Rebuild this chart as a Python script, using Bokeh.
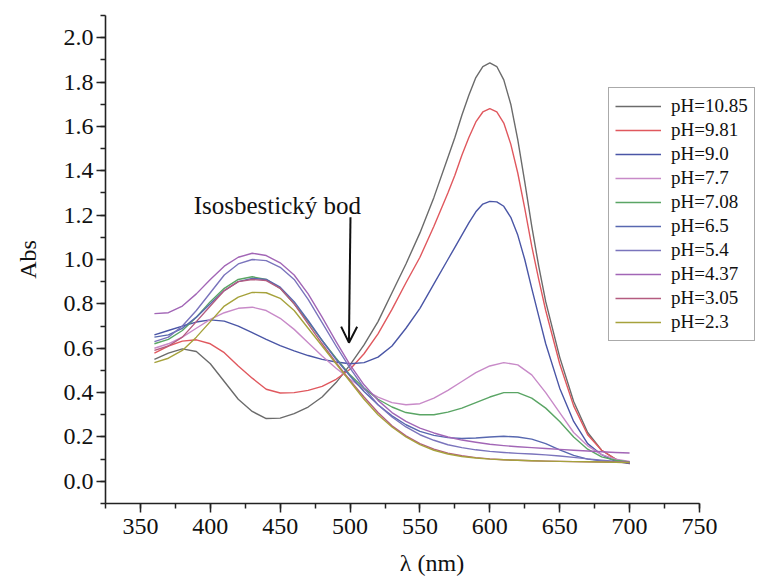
from bokeh.plotting import figure
from bokeh.models import (ColumnDataSource, SingleIntervalTicker, Label, Arrow,
                          OpenHead, NumeralTickFormatter)
from bokeh.embed import file_html
from bokeh.resources import INLINE

FONT = "Liberation Serif"

# wavelength grids (nm)
wavelength = list(range(360, 701, 10))
wavelength_alk = (list(range(360, 571, 10)) + list(range(575, 641, 5))
                  + list(range(650, 701, 10)))

ph_labels = ["pH=10.85", "pH=9.81", "pH=9.0", "pH=7.7", "pH=7.08",
             "pH=6.5", "pH=5.4", "pH=4.37", "pH=3.05", "pH=2.3"]

# alkaline spectra (on wavelength_alk)
abs_10_85 = [0.55, 0.578, 0.597, 0.585, 0.53, 0.45, 0.37, 0.315, 0.283, 0.285,
             0.305, 0.335, 0.38, 0.445, 0.525, 0.615, 0.72, 0.85, 0.98, 1.12,
             1.28, 1.46,
             1.55, 1.65, 1.74, 1.82, 1.87, 1.886, 1.87, 1.81, 1.70, 1.54,
             1.35, 1.15, 0.97, 0.81,
             0.56, 0.36, 0.22, 0.14, 0.10, 0.08]
abs_9_81 = [0.578, 0.61, 0.632, 0.638, 0.62, 0.58, 0.52, 0.465, 0.415, 0.398,
            0.40, 0.41, 0.428, 0.46, 0.505, 0.575, 0.665, 0.775, 0.895, 1.01,
            1.15, 1.30,
            1.38, 1.47, 1.55, 1.62, 1.665, 1.68, 1.665, 1.615, 1.52, 1.39,
            1.23, 1.06, 0.91, 0.77,
            0.53, 0.34, 0.21, 0.14, 0.10, 0.08]
abs_9_0 = [0.66, 0.68, 0.70, 0.718, 0.728, 0.722, 0.70, 0.67, 0.64, 0.612,
           0.588, 0.567, 0.55, 0.538, 0.53, 0.535, 0.56, 0.61, 0.69, 0.78,
           0.89, 1.00,
           1.055, 1.11, 1.165, 1.215, 1.25, 1.262, 1.26, 1.24, 1.19, 1.11,
           1.00, 0.87, 0.745, 0.62,
           0.42, 0.27, 0.17, 0.12, 0.09, 0.08]

# other spectra (on wavelength)
abs_7_7 = [0.60, 0.62, 0.65, 0.69, 0.73, 0.76, 0.78, 0.785, 0.77, 0.735,
           0.685, 0.625, 0.565, 0.51, 0.46, 0.415, 0.38, 0.355, 0.345, 0.35,
           0.375, 0.41, 0.45, 0.49, 0.52, 0.535, 0.525, 0.48, 0.40, 0.31,
           0.22, 0.16, 0.12, 0.10, 0.09]
abs_7_08 = [0.62, 0.64, 0.68, 0.74, 0.81, 0.87, 0.91, 0.922, 0.91, 0.87,
            0.80, 0.72, 0.635, 0.555, 0.48, 0.42, 0.37, 0.335, 0.31, 0.30,
            0.30, 0.312, 0.33, 0.355, 0.38, 0.40, 0.40, 0.375, 0.33, 0.27,
            0.20, 0.145, 0.11, 0.095, 0.087]
abs_6_5 = [0.65, 0.66, 0.69, 0.74, 0.80, 0.86, 0.90, 0.915, 0.91, 0.875,
           0.81, 0.725, 0.635, 0.55, 0.475, 0.405, 0.345, 0.295, 0.255, 0.225,
           0.207, 0.197, 0.193, 0.195, 0.20, 0.203, 0.20, 0.19, 0.17, 0.142,
           0.117, 0.10, 0.092, 0.088, 0.085]
abs_5_4 = [0.63, 0.65, 0.70, 0.77, 0.85, 0.93, 0.98, 1.0, 0.995, 0.965,
           0.91, 0.82, 0.715, 0.61, 0.51, 0.42, 0.345, 0.29, 0.245, 0.21,
           0.185, 0.165, 0.152, 0.142, 0.135, 0.13, 0.126, 0.123, 0.119, 0.114,
           0.108, 0.101, 0.095, 0.09, 0.087]
abs_4_37 = [0.756, 0.76, 0.79, 0.845, 0.91, 0.97, 1.01, 1.028, 1.018, 0.985,
            0.93, 0.845, 0.74, 0.63, 0.525, 0.435, 0.365, 0.31, 0.27, 0.24,
            0.218, 0.20, 0.186, 0.176, 0.167, 0.161, 0.156, 0.152, 0.148, 0.144,
            0.14, 0.137, 0.133, 0.13, 0.128]
abs_3_05 = [0.59, 0.61, 0.65, 0.72, 0.79, 0.86, 0.90, 0.91, 0.905, 0.87,
            0.80, 0.71, 0.62, 0.535, 0.455, 0.38, 0.31, 0.25, 0.205, 0.17,
            0.145, 0.127, 0.115, 0.107, 0.101, 0.097, 0.095, 0.093, 0.091, 0.09,
            0.089, 0.088, 0.087, 0.086, 0.085]
abs_2_3 = [0.535, 0.555, 0.59, 0.65, 0.72, 0.79, 0.83, 0.852, 0.85, 0.825,
           0.77, 0.69, 0.61, 0.53, 0.45, 0.37, 0.30, 0.245, 0.20, 0.165,
           0.14, 0.123, 0.112, 0.105, 0.10, 0.097, 0.095, 0.093, 0.091, 0.09,
           0.089, 0.088, 0.087, 0.086, 0.085]

series = [abs_10_85, abs_9_81, abs_9_0, abs_7_7, abs_7_08,
          abs_6_5, abs_5_4, abs_4_37, abs_3_05, abs_2_3]
grids = [wavelength_alk] * 3 + [wavelength] * 7
colors = ["#6b6b6b", "#e0585e", "#4a56a6", "#c88ac8", "#5aa565",
          "#5868b0", "#7a74bc", "#a266b6", "#b45c80", "#a6a23c"]

annot_text = "Isosbestický bod"

X_MIN, X_MAX_AXIS = 325, 750
Y_MIN, Y_MAX = -0.1, 2.1
FRAME_W = 758 - 105
X_MAX_VIEW = X_MIN + FRAME_W / 1.3975

p = figure(width=758, height=581, output_backend="svg", toolbar_location=None,
           x_range=(X_MIN, X_MAX_VIEW), y_range=(Y_MIN, Y_MAX),
           min_border_left=105, min_border_right=0,
           min_border_top=15, min_border_bottom=78)
p.outline_line_color = None
p.xgrid.visible = False
p.ygrid.visible = False
p.background_fill_color = "white"
p.border_fill_color = "white"

for xs, vals, lab, col in zip(grids, series, ph_labels, colors):
    src = ColumnDataSource(dict(x=xs, y=vals))
    p.line("x", "y", source=src, line_color=col, line_width=1.4,
           line_join="round", legend_label=lab)

for ax, interval in ((p.xaxis[0], 50), (p.yaxis[0], 0.2)):
    ax.ticker = SingleIntervalTicker(interval=interval, num_minor_ticks=2)
    ax.axis_line_width = 1.6
    ax.axis_line_color = "#222222"
    ax.major_tick_line_color = "#222222"
    ax.minor_tick_line_color = "#222222"
    ax.major_tick_line_width = 1.5
    ax.minor_tick_line_width = 1.5
    ax.major_tick_in = 0
    ax.major_tick_out = 9
    ax.minor_tick_in = 0
    ax.minor_tick_out = 5
    ax.major_label_text_font = FONT
    ax.major_label_text_font_size = "24px"
    ax.major_label_text_color = "#111111"
    ax.axis_label_text_font = FONT
    ax.axis_label_text_font_size = "24px"
    ax.axis_label_text_font_style = "normal"
    ax.axis_label_text_color = "#111111"

p.xaxis[0].bounds = (X_MIN, X_MAX_AXIS)
p.xaxis[0].axis_label = "λ (nm)"
p.yaxis[0].axis_label = "Abs"
p.yaxis[0].major_label_standoff = 3
p.xaxis[0].major_label_standoff = 6
p.yaxis[0].axis_label_standoff = 20
p.xaxis[0].axis_label_standoff = 13
p.yaxis[0].formatter = NumeralTickFormatter(format="0.0")

leg = p.legend[0]
leg.location = (503, 162)
leg.label_text_font = FONT
leg.label_text_font_size = "19px"
leg.label_text_color = "#111111"
leg.glyph_width = 46
leg.glyph_height = 24
leg.label_height = 24
leg.label_standoff = 10
leg.spacing = 0
leg.padding = 6
leg.margin = 0
leg.border_line_color = "#555555"
leg.border_line_width = 1.2
leg.background_fill_alpha = 1.0

p.add_layout(Label(x=448, y=1.244, text=annot_text, text_align="center",
                   text_baseline="middle", text_font=FONT,
                   text_font_size="25px", text_color="#111111"))
p.add_layout(Arrow(end=OpenHead(size=16, line_width=2, line_color="#111111"),
                   x_start=500.3, y_start=1.19, x_end=499.2, y_end=0.625,
                   line_width=2, line_color="#111111"))

open("out.html", "w").write(file_html(p, INLINE))
